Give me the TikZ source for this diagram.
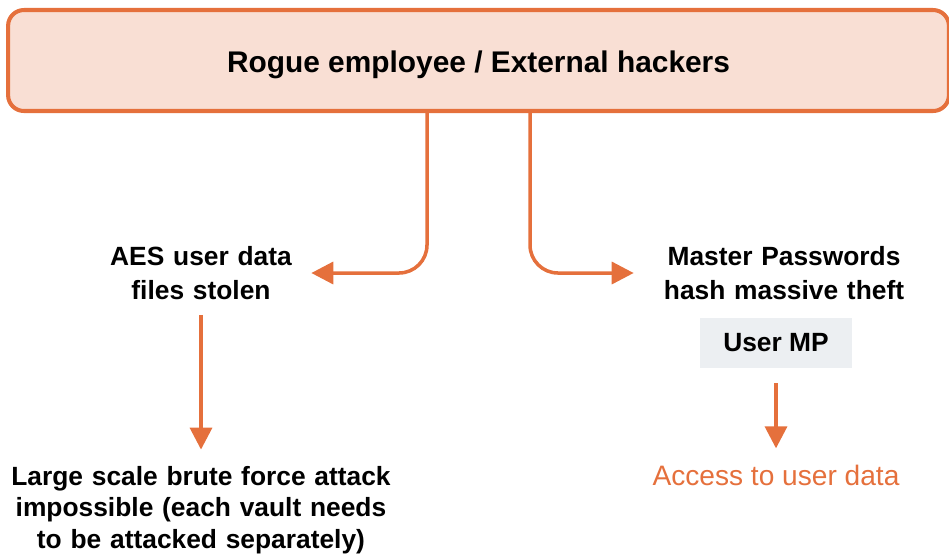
\documentclass[tikz,border=0pt]{standalone}
\usepackage{fontspec}
\setmainfont{Liberation Sans}
\usetikzlibrary{arrows.meta}

\definecolor{rogueorange}{HTML}{E5703C}
\definecolor{roguefill}{HTML}{F9DFD4}
\definecolor{mpgray}{HTML}{ECEFF2}

\tikzset{
  topbox/.style={draw=rogueorange, fill=roguefill, line width=2.3pt, rounded corners=9pt,
    minimum width=18.82cm, minimum height=2.02cm, text height=13.4pt, text depth=0pt,
    font=\fontsize{17}{20}\selectfont\bfseries},
  infotext/.style={align=center, inner sep=0pt, font=\fontsize{15}{19.3}\selectfont\bfseries},
  mpbox/.style={fill=mpgray, minimum width=3.04cm, minimum height=1cm,
    font=\fontsize{15}{18}\selectfont\bfseries},
  conn/.style={draw=rogueorange, line width=2pt, -{Triangle[length=12.5pt,width=12.5pt]}},
}

\begin{document}
\begin{tikzpicture}[x=0.02cm, y=-0.02cm]
  \useasboundingbox (0,0) rectangle (949,556);

  \node[topbox] (top) at (478.5,60.5) {Rogue employee / External hackers};

  \node[infotext, text width=4.4cm] (aes) at (201,273) {AES user data\\files stolen};
  \node[infotext, text width=6cm] (mph) at (784,273) {Master Passwords\\hash massive theft};
  \node[mpbox] (usermp) at (776,343) {User MP};

  \node[infotext, font=\fontsize{16}{18}\selectfont, text=rogueorange] (access) at (776,475) {Access to user data};
  \node[infotext, text width=8cm, font=\fontsize{15}{18.1}\selectfont\bfseries] (brute) at (201,510)
    {Large scale brute force attack\\impossible (each vault needs\\to be attacked separately)};

  \coordinate (lsplit) at (427,111);
  \coordinate (rsplit) at (530,111);

  \draw[conn, rounded corners=0.56cm] (top.south -| lsplit) |- (aes.east);
  \draw[conn, rounded corners=0.56cm] (top.south -| rsplit) |- (mph.west);

  \draw[conn, shorten <=0.3cm, shorten >=0.32cm] (aes.south) -- (brute.north);
  \draw[conn, shorten <=0.3cm, shorten >=0.32cm] (usermp.south) -- (access.north);
\end{tikzpicture}
\end{document}
